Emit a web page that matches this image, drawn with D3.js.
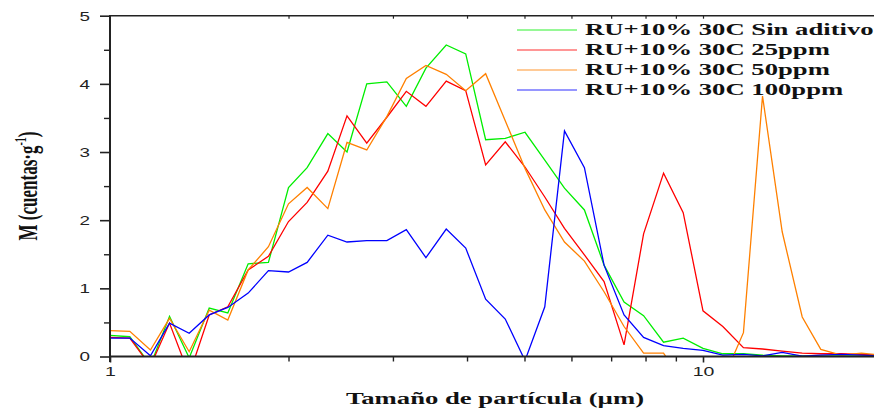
<!DOCTYPE html>
<html><head><meta charset="utf-8">
<script src="https://cdn.jsdelivr.net/npm/d3@7"></script>
<style>html,body{margin:0;padding:0;background:#fff;} svg{display:block;}</style>
</head><body><svg id="c" width="874" height="410"></svg>
<script>
// particle size (µm)
const sizes = [1.00,1.08,1.17,1.26,1.36,1.47,1.58,1.71,1.85,2.00,2.15,2.33,2.51,2.71,2.93,3.16,3.41,3.69,3.98,4.30,4.64,5.01,5.41,5.84,6.31,6.81,7.36,7.94,8.58,9.26,10.0,10.8,11.7,12.6,13.6,14.7,15.8,17.1,18.5,20.0];
const sinAditivo = [0.31,0.29,-0.13,0.59,-0.02,0.71,0.64,1.36,1.38,2.48,2.77,3.27,3.00,4.00,4.03,3.67,4.23,4.57,4.44,3.18,3.20,3.29,2.88,2.47,2.15,1.34,0.80,0.60,0.21,0.27,0.12,0.04,0.04,0.02,0.01,0.01,0.005,0.01,0.005,0.005];
const ppm25 = [0.28,0.27,-0.14,0.49,-0.27,0.61,0.73,1.27,1.47,1.98,2.26,2.72,3.53,3.13,3.51,3.89,3.67,4.04,3.90,2.81,3.15,2.78,2.34,1.88,1.49,1.10,0.17,1.80,2.69,2.11,0.67,0.44,0.13,0.11,0.08,0.05,0.04,0.04,0.03,0.02];
const ppm50 = [0.38,0.37,0.095,0.56,0.07,0.68,0.535,1.27,1.61,2.24,2.48,2.17,3.14,3.03,3.52,4.08,4.27,4.14,3.90,4.15,3.46,2.76,2.15,1.68,1.40,0.95,0.44,0.05,0.05,-0.40,-0.50,-0.35,0.35,3.82,1.83,0.58,0.105,0.02,0.05,0.02];
const ppm100 = [0.27,0.27,0.01,0.49,0.34,0.61,0.72,0.93,1.26,1.24,1.38,1.78,1.68,1.70,1.70,1.86,1.45,1.87,1.59,0.84,0.55,-0.06,0.73,3.31,2.77,1.34,0.61,0.28,0.16,0.12,0.09,0.02,0.03,0.01,0.06,0.005,0.02,0.03,0.02,0.01];

const seriesNames = ["RU+10% 30C Sin aditivo","RU+10% 30C 25ppm","RU+10% 30C 50ppm","RU+10% 30C 100ppm"];
const seriesColors = ["#00ee00","#ff0000","#ff8000","#0000ff"];
const yTicks = [0,1,2,3,4,5];
const yMinor = [0.5,1.5,2.5,3.5,4.5];
const xTicks = [1,10];
const xMinor = [2,3,4,5,6,7,8,9,20];
const xTitle = "Tamaño de partícula (µm)";

(function(){
const allSeries = [sinAditivo, ppm25, ppm50, ppm100];
const svg = d3.select("#c");
svg.append("rect").attr("width",874).attr("height",410).attr("fill","#fff");

const pL = 110, pT = 15.7, pB = 356.5;
const x = d3.scaleLog().domain([1,20]).range([pL, pL + 593*Math.log10(20)]);
const y = d3.scaleLinear().domain([0,5]).range([pB, pT]);
const SX = 1.57;

svg.append("defs").append("clipPath").attr("id","clip")
  .append("rect").attr("x",pL).attr("y",pT).attr("width",874-pL).attr("height",pB-pT);

// lines
const line = d3.line().x((d,i)=>x(sizes[i])).y(d=>y(d));
allSeries.forEach((s,k)=>{
  svg.append("path").datum(s).attr("d",line).attr("fill","none")
    .attr("stroke",seriesColors[k]).attr("stroke-width",1.3)
    .attr("stroke-linejoin","miter").attr("clip-path","url(#clip)");
});

// Y axis
const yAx = svg.append("g").attr("transform",`translate(${pL},0)`)
  .call(d3.axisLeft(y).tickValues(yTicks).tickSize(10).tickSizeOuter(0).tickFormat(d3.format("d")));
yAx.select(".domain").remove();
yAx.selectAll("line").attr("stroke","#222").attr("stroke-width",1.6);
yAx.selectAll("text").attr("x",-12.7).attr("dy","0.36em")
  .attr("transform",`scale(${SX},1)`)
  .style("font-family","'Liberation Sans',Arial,sans-serif").style("font-size","12px").attr("fill","#222");
const yMin = svg.append("g").attr("transform",`translate(${pL},0)`)
  .call(d3.axisLeft(y).tickValues(yMinor).tickSize(6).tickSizeOuter(0).tickFormat(""));
yMin.select(".domain").remove();
yMin.selectAll("line").attr("stroke","#222").attr("stroke-width",1.4);

// X axis bottom
const xAx = svg.append("g").attr("transform",`translate(0,${pB})`)
  .call(d3.axisBottom(x).tickValues(xTicks).tickSize(6).tickSizeOuter(0).tickFormat(d3.format("d")));
xAx.select(".domain").remove();
xAx.selectAll("line").attr("stroke","#222").attr("stroke-width",1.6);
xAx.selectAll("text").attr("y",10).attr("dy","0.71em")
  .attr("transform",`scale(${1.5},1)`)
  .style("font-family","'Liberation Sans',Arial,sans-serif").style("font-size","13px").attr("fill","#222");
const xMin = svg.append("g").attr("transform",`translate(0,${pB})`)
  .call(d3.axisBottom(x).tickValues(xMinor).tickSize(5).tickSizeOuter(0).tickFormat(""));
xMin.select(".domain").remove();
xMin.selectAll("line").attr("stroke","#222").attr("stroke-width",1.4);

// X axis top (inward ticks)
const xTop = svg.append("g").attr("transform",`translate(0,${pT})`)
  .call(d3.axisBottom(x).tickValues(xMinor.concat([10])).tickSize(3).tickSizeOuter(0).tickFormat(""));
xTop.select(".domain").remove();
xTop.selectAll("line").attr("stroke","#222").attr("stroke-width",1.2);

// frame lines
svg.append("line").attr("x1",pL).attr("x2",pL).attr("y1",pT-0.8).attr("y2",pB+5.5)
  .attr("stroke","#222").attr("stroke-width",2);
svg.append("line").attr("x1",pL-1).attr("x2",874).attr("y1",pB).attr("y2",pB)
  .attr("stroke","#222").attr("stroke-width",2);
svg.append("line").attr("x1",pL).attr("x2",874).attr("y1",pT).attr("y2",pT)
  .attr("stroke","#222").attr("stroke-width",1.6);

// legend
const lg = svg.append("g");
seriesNames.forEach((n,k)=>{
  const ly = 30 + 20*k;
  lg.append("line").attr("x1",517).attr("x2",577).attr("y1",ly).attr("y2",ly)
    .attr("stroke",seriesColors[k]).attr("stroke-width",1.5).attr("stroke-opacity",0.55);
  lg.append("text").attr("transform",`translate(585,${ly+5}) scale(${SX},1)`)
    .style("font-family","'Liberation Serif','Times New Roman',serif").style("font-weight","bold")
    .style("font-size","17px").attr("fill","#111").text(n);
});

// x title
svg.append("text").attr("transform",`translate(495,404) scale(${SX},1)`)
  .attr("text-anchor","middle")
  .style("font-family","'Liberation Serif','Times New Roman',serif").style("font-weight","bold")
  .style("font-size","17px").attr("fill","#111").text(xTitle);

// y title
const yt = svg.append("text").attr("transform",`translate(37,186) rotate(-90) scale(1,${SX})`)
  .attr("text-anchor","middle")
  .style("font-family","'Liberation Serif','Times New Roman',serif").style("font-weight","bold")
  .style("font-size","17px").attr("fill","#111");
yt.append("tspan").text("M (cuentas·g");
yt.append("tspan").attr("dy",-7).style("font-size","10px").text("-1");
yt.append("tspan").attr("dy",7).text(")");
})();
</script>
</body></html>
